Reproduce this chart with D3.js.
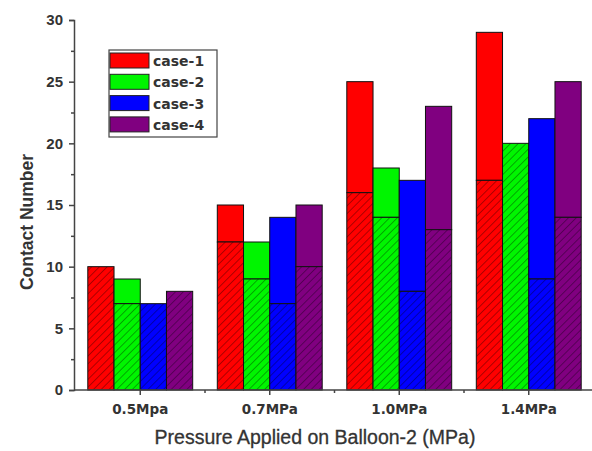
<!DOCTYPE html>
<html><head><meta charset="utf-8">
<script src="https://cdn.jsdelivr.net/npm/d3@7"></script>
<style>body{margin:0;background:#fff;}svg{display:block;}</style>
</head><body>
<svg id="c" width="592" height="451"></svg>
<script>
const categories = ["0.5Mpa","0.7MPa","1.0MPa","1.4MPa"];
const seriesNames = ["case-1","case-2","case-3","case-4"];
const colors = ["#ff0000","#00f500","#0000ff","#800080"];
// hatched (lower) values per series, one per category
const lowerValues = [
  [10,12,16,17],
  [7,9,14,20],
  [7,7,8,9],
  [8,10,13,14]
];
// total bar height per series
const totalValues = [
  [10,15,25,29],
  [9,12,18,20],
  [7,14,17,22],
  [8,15,23,25]
];
const yTicks = [0,5,10,15,20,25,30];

const svg = d3.select("#c");
const axLeft = 74;
const x0 = d3.scaleBand().domain(categories).range([75.5, 593.5]).paddingInner(0.19).paddingOuter(0.095);
const x1 = d3.scaleBand().domain(seriesNames).range([0, x0.bandwidth()]);
const y = d3.scaleLinear().domain([0,30]).range([390, 20]);

const defs = svg.append("defs");
colors.forEach((c,i)=>{
  const p = defs.append("pattern").attr("id","h"+i).attr("patternUnits","userSpaceOnUse")
    .attr("width",5.5).attr("height",5.5).attr("patternTransform","rotate(45)");
  p.append("rect").attr("width",5.5).attr("height",5.5).attr("fill",c);
  p.append("line").attr("x1",0).attr("y1",0).attr("x2",0).attr("y2",5.5)
    .attr("stroke","#000").attr("stroke-opacity",0.35).attr("stroke-width",1.8);
});

const g = svg.append("g");
seriesNames.forEach((s,i)=>{
  categories.forEach((cat,j)=>{
    const bx = x0(cat)+x1(s), bw = x1.bandwidth();
    const lo = lowerValues[i][j], tot = totalValues[i][j];
    if (tot > lo) {
      g.append("rect").attr("x",bx).attr("y",y(tot)).attr("width",bw).attr("height",y(lo)-y(tot))
        .attr("fill",colors[i]).attr("stroke","#111").attr("stroke-width",1);
    }
    g.append("rect").attr("x",bx).attr("y",y(lo)).attr("width",bw).attr("height",y(0)-y(lo))
      .attr("fill","url(#h"+i+")").attr("stroke","#111").attr("stroke-width",1);
  });
});

// axes
const axCol = "#444";
const yAxis = svg.append("g").attr("transform",`translate(${axLeft},0)`)
  .call(d3.axisLeft(y).tickValues(yTicks).tickSize(5).tickPadding(6));
const yMinor = svg.append("g").attr("transform",`translate(${axLeft},0)`)
  .call(d3.axisLeft(y).tickValues(d3.range(2.5,30,5)).tickSize(3).tickFormat(""));
yMinor.select(".domain").remove();
const xAxis = svg.append("g").attr("transform",`translate(0,${y(0)})`)
  .call(d3.axisBottom(x0).tickSize(5).tickPadding(9).tickSizeOuter(0));
const bounds = categories.slice(1).map(c=>x0(c)-x0.step()*x0.paddingInner()/2);
const xMinor = svg.append("g").attr("transform",`translate(0,${y(0)})`);
bounds.forEach(b=>xMinor.append("line").attr("x1",b).attr("x2",b).attr("y1",0).attr("y2",3).attr("stroke",axCol).attr("stroke-width",1.5));
[yAxis,yMinor,xAxis].forEach(a=>{
  a.selectAll("path,line").attr("stroke",axCol).attr("stroke-width",1.5);
});
yAxis.selectAll("text").attr("font-family","Liberation Sans, Arial, sans-serif")
  .attr("font-size",15).attr("font-weight","bold").attr("fill","#333");
xAxis.selectAll("text").attr("font-family","DejaVu Sans, sans-serif")
  .attr("font-size",13.5).attr("font-weight","bold").attr("fill","#333");
xAxis.select(".domain").attr("d",`M${axLeft},0H592`);

// axis titles
svg.append("text").attr("transform","translate(33,222) rotate(-90)").attr("text-anchor","middle")
  .attr("font-family","Liberation Sans, Arial, sans-serif").attr("font-size",17.5).attr("font-weight","bold")
  .attr("fill","#333").text("Contact Number");
svg.append("text").attr("x",315).attr("y",444).attr("text-anchor","middle")
  .attr("font-family","Liberation Sans, Arial, sans-serif").attr("font-size",19.5)
  .attr("fill","#333").attr("stroke","#333").attr("stroke-width",0.3)
  .text("Pressure Applied on Balloon-2 (MPa)");

// legend
const lg = svg.append("g").attr("transform","translate(109,50)");
lg.append("rect").attr("width",108).attr("height",87).attr("fill","#fff").attr("stroke","#444").attr("stroke-width",1.2);
seriesNames.forEach((s,i)=>{
  const ry = 3 + i*21.3;
  lg.append("rect").attr("x",1).attr("y",ry).attr("width",39).attr("height",15)
    .attr("fill",colors[i]).attr("stroke","#222").attr("stroke-width",1);
  lg.append("text").attr("x",44).attr("y",ry+13)
    .attr("font-family","DejaVu Sans, sans-serif").attr("font-size",14).attr("font-weight","bold")
    .attr("fill","#333").text(s);
});
</script>
</body></html>
